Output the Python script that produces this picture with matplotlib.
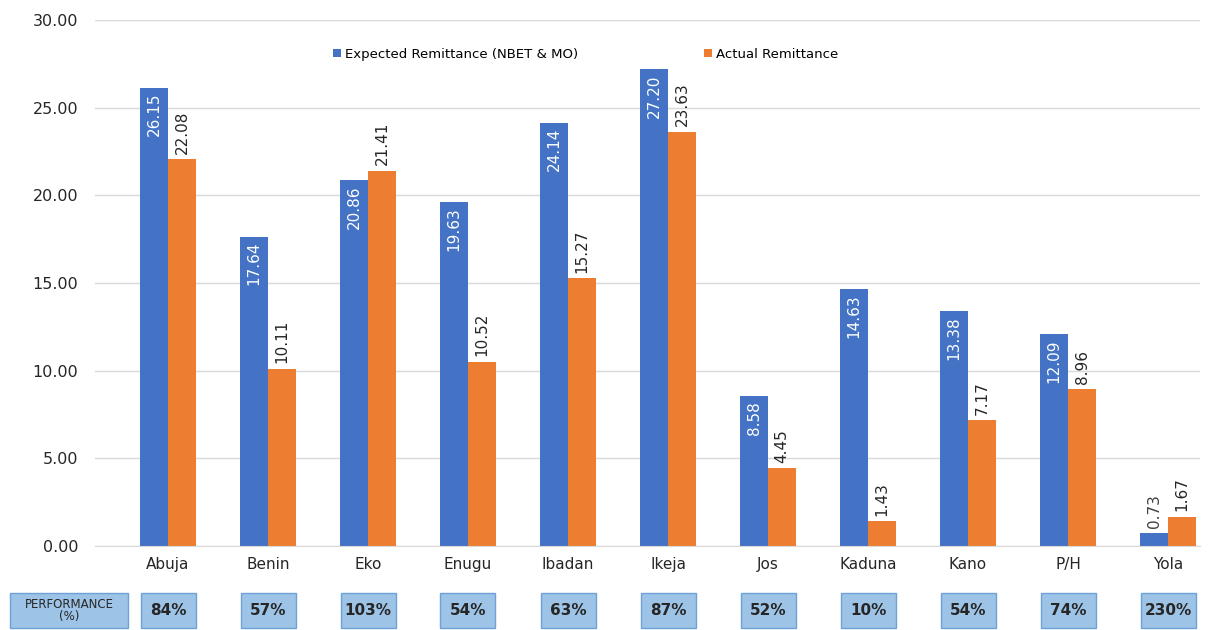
import matplotlib
matplotlib.use('Agg')
import matplotlib.pyplot as plt
from matplotlib.patches import Rectangle
import numpy as np

regions = ['Abuja', 'Benin', 'Eko', 'Enugu', 'Ibadan', 'Ikeja', 'Jos',
           'Kaduna', 'Kano', 'P/H', 'Yola']
expected = [26.15, 17.64, 20.86, 19.63, 24.14, 27.20, 8.58, 14.63, 13.38, 12.09, 0.73]
actual = [22.08, 10.11, 21.41, 10.52, 15.27, 23.63, 4.45, 1.43, 7.17, 8.96, 1.67]
performance = ['84%', '57%', '103%', '54%', '63%', '87%', '52%', '10%', '54%', '74%', '230%']

blue = '#4472C4'
orange = '#ED7D31'

fig = plt.figure(figsize=(12.08, 6.3), dpi=100)
ax = fig.add_axes([95 / 1208, 1 - 546 / 630, (1200 - 95) / 1208, (546 - 20) / 630])

x = np.arange(len(regions))
w = 0.28
ax.bar(x - w / 2, expected, w, color=blue, label='Expected Remittance (NBET & MO)')
ax.bar(x + w / 2, actual, w, color=orange, label='Actual Remittance')

for xi, v in zip(x, expected):
    if v > 3:
        ax.text(xi - w / 2, v - 0.3, '%.2f' % v, rotation=90, ha='center', va='top',
                color='white', fontsize=11)
    else:
        ax.text(xi - w / 2, v + 0.3, '%.2f' % v, rotation=90, ha='center', va='bottom',
                color='#404040', fontsize=11)
for xi, v in zip(x, actual):
    ax.text(xi + w / 2, v + 0.3, '%.2f' % v, rotation=90, ha='center', va='bottom',
            color='#262626', fontsize=11)

ax.set_xlim(-0.73, 10.32)
ax.set_ylim(0, 30)
ax.set_yticks(np.arange(0, 30.01, 5))
ax.set_yticklabels(['%.2f' % t for t in np.arange(0, 30.01, 5)], fontsize=11.5, color='#262626')
ax.set_xticks(x)
ax.set_xticklabels(regions, fontsize=11, color='#262626')
ax.tick_params(length=0, pad=12)
ax.tick_params(axis='x', pad=8)
ax.yaxis.grid(True, color='#D9D9D9', linewidth=1)
ax.set_axisbelow(True)
for s in ['top', 'right', 'left']:
    ax.spines[s].set_visible(False)
ax.spines['bottom'].set_color('#D9D9D9')

ax.legend(loc='upper left', bbox_to_anchor=(0.205, 0.97), ncol=2, frameon=False,
          fontsize=9.5, columnspacing=9.5, handlelength=0.6, handleheight=0.6,
          handletextpad=0.3)

# performance boxes
box_y = 1 - 628 / 630
box_h = 35 / 630
fig.patches.append(Rectangle((10 / 1208, box_y), 118 / 1208, box_h, transform=fig.transFigure,
                             facecolor='#9DC3E6', edgecolor='#6FA0D8', linewidth=1))
fig.text(69 / 1208, box_y + box_h / 2, 'PERFORMANCE\n(%)', ha='center', va='center',
         fontsize=8.5, color='#262626', linespacing=0.9)
for xi, p in zip(x, performance):
    xc = ax.transData.transform((xi, 0))[0] / 1208
    bw = 55 / 1208
    fig.patches.append(Rectangle((xc - bw / 2, box_y), bw, box_h, transform=fig.transFigure,
                                 facecolor='#9DC3E6', edgecolor='#6FA0D8', linewidth=1))
    fig.text(xc, box_y + box_h / 2, p, ha='center', va='center', fontsize=11,
             color='#262626', fontweight='bold')

plt.savefig('out.png', dpi=100)
